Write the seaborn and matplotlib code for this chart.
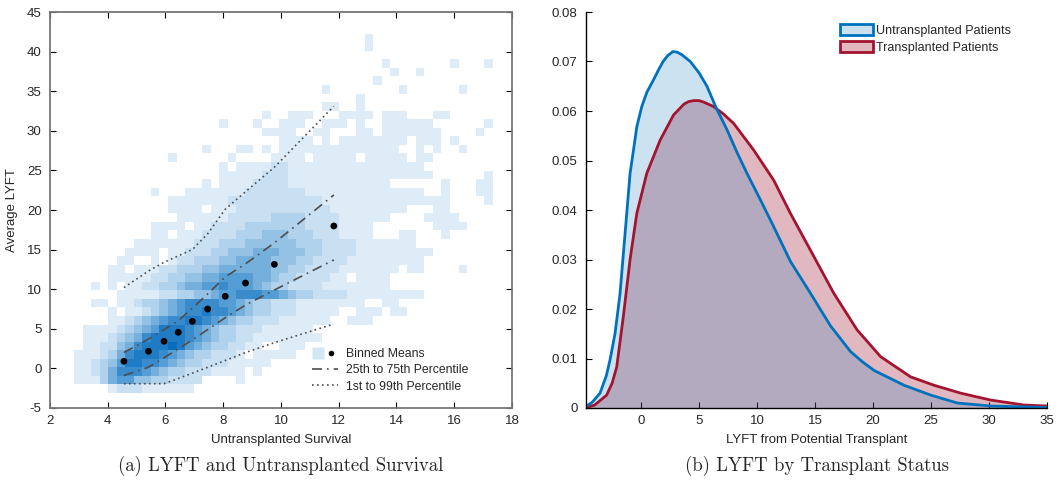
import numpy as np
import pandas as pd
import matplotlib
import matplotlib.pyplot as plt
import matplotlib.ticker as mticker
import seaborn as sns
from matplotlib.colors import LinearSegmentedColormap
from matplotlib.lines import Line2D
from matplotlib.patches import Patch
from matplotlib.legend_handler import HandlerTuple

# ==========================================
# 1. DADOS - painel (a)
# ==========================================
# Grade do histograma 2D (nível de cor 0-9, 0 = vazio).
# Primeira string = linha do topo; cada caractere = uma coluna.
GRADE = [
    "0000000000000000000000000000000000100000000000000",
    "0000000000000000000000000000000000100000000000000",
    "",
    "0000000000000000000000000000000000001000000010001",
    "00000000000000000000000000000000000001001",
    "000000000000000000000000000000000001",
    "00000000000000000000000000000100000000100000010",
    "0000000000000000000000000000000001",
    "000000000000000000000000000001100100",
    "000000000000000000000010011100011110111000110",
    "000000000000000001000100111001110100111111000000100",
    "000000000000000000000011110011000110111111100001",
    "000000000000000000000000111101011111111011101",
    "000000000000000100011010111111111111110010100100",
    "000000000001000000100001111011111011111011",
    "00000000000000000101111221111111111111111",
    "000000000000000001111122211111111111111111000000100",
    "0000000000000001011112222111111111111000000100011",
    "000000000100011111112222222111111111111110010001100",
    "000000000001111111222222222221111111111111110000100",
    "000000000001111011122222222222111111111000110",
    "000000000000111111222223333222211111100001111",
    "0000000001111011222233333332222111100000001111",
    "000000000110111222233344433322211110001100010",
    "0000000111111122233344444433322221111111",
    "000000111101122233444555444332222111111111",
    "00000110010122333445555444332222111111111",
    "000011011122333445555554433222211111110110000100",
    "0000111112233445566665543322221101111",
    "0010101122334556676665433222211111111",
    "00000111112233445667776654332222111111111",
    "0011011233456777766543322211111111001100",
    "00001011234567787765433222111110011101100",
    "00001123456778876543322211111100111",
    "01111234568887654332221111110",
    "01112345788887654332211111111",
    "011224578889865433221100111",
    "11123578887654332221011111",
    "11234688776543322211111",
    "1123577765433222111101",
    "111356644332222000010000",
    "00001222111111",
]

N_LINHAS = 42
N_COLUNAS = 50
X_INICIO, X_LARG = 2.83, 0.296
Y_INICIO, Y_ALT = -3.1, 1.08

# Cores dos níveis 1..9 (do mais claro ao mais escuro)
CORES_NIVEL = ["#deecf7", "#c9e0f2", "#b0d2ec", "#94c2e5", "#76b0dd",
               "#569dd5", "#3a8bcc", "#1f7bc4", "#0a6cbc"]

# Médias por faixa e percentis
MEDIAS_X = [4.56, 5.41, 5.95, 6.44, 6.93, 7.46, 8.07, 8.77, 9.77, 11.83]
MEDIAS_Y = [0.9, 2.16, 3.42, 4.56, 5.94, 7.5, 9.1, 10.78, 13.14, 17.98]
P25 = [-0.9, 0.15, 1.35, 2.45, 3.6, 4.9, 6.4, 8.0, 9.9, 13.7]
P75 = [2.0, 3.7, 4.9, 6.0, 7.6, 9.4, 11.55, 13.2, 15.85, 21.9]
P01 = [-1.93, -1.93, -1.93, -1.28, -0.6, 0.14, 1.0, 2.0, 3.25, 5.6]
P99 = [10.2, 12.3, 13.4, 14.2, 15.0, 17.0, 20.1, 22.3, 25.4, 33.1]

# ==========================================
# 2. DADOS - painel (b)
# ==========================================
LYFT_NAO_TX = [-4.75, -4.2, -3.54, -3.0, -2.68, -2.25, -1.82, -1.38, -0.95, -0.6,
               -0.37, 0.06, 0.5, 1.07, 1.5, 1.9, 2.3, 2.74, 3.1, 3.5,
               4.24, 5.0, 5.68, 6.5, 7.41, 8.3, 9.13, 10.3, 11.44, 12.88,
               14.6, 16.33, 18.06, 19.1, 20.08, 22.67, 24.98, 27.28, 30.2, 35.0]
DENS_NAO_TX = [0.0003, 0.0012, 0.003, 0.0065, 0.0097, 0.015, 0.023, 0.0353, 0.0474, 0.053,
               0.0568, 0.0609, 0.0638, 0.0663, 0.0683, 0.0700, 0.0712, 0.0720, 0.0719, 0.0714,
               0.0700, 0.0677, 0.0650, 0.0605, 0.0562, 0.0515, 0.0474, 0.0420, 0.0366, 0.0296,
               0.0232, 0.0166, 0.0114, 0.0093, 0.0076, 0.0046, 0.0026, 0.0010, 0.0004, 0.0001]
LYFT_TX = [-4.75, -4.0, -2.97, -2.5, -2.1, -1.53, -0.95, -0.37, 0.49, 1.64,
           2.8, 3.7, 4.1, 4.53, 5.0, 5.4, 6.25, 7.1, 7.98, 9.71,
           11.44, 12.88, 14.9, 16.61, 18.62, 20.64, 23.23, 25.25, 27.56, 30.15,
           33.03, 35.0]
DENS_TX = [0.0001, 0.0006, 0.0026, 0.005, 0.0083, 0.0185, 0.030, 0.0393, 0.0474, 0.0541,
           0.0592, 0.0614, 0.0619, 0.0621, 0.0621, 0.0618, 0.0609, 0.0594, 0.0575, 0.0521,
           0.046, 0.0393, 0.0306, 0.0232, 0.0158, 0.0104, 0.0063, 0.0046, 0.003, 0.0016,
           0.0006, 0.0004]

AZUL = "#0072BD"
VERMELHO = "#A2142F"
CINZA = "#4d4d4d"

# ==========================================
# 3. ESTILO
# ==========================================
sns.set_style("ticks", {"xtick.direction": "in", "ytick.direction": "in"})
plt.rcParams["font.family"] = ["Liberation Sans", "DejaVu Sans"]
plt.rcParams["axes.unicode_minus"] = False

W, H = 1059, 486
fig = plt.figure(figsize=(W / 100, H / 100), dpi=100)
ax1 = fig.add_axes([50 / W, 1 - 408 / H, 462 / W, 396 / H])
ax2 = fig.add_axes([586 / W, 1 - 408 / H, 461 / W, 396 / H])

# ==========================================
# 4. PAINEL (a) - histograma 2D + médias e percentis
# ==========================================
x_bordas = X_INICIO + X_LARG * np.arange(N_COLUNAS + 1)
y_bordas = Y_INICIO + Y_ALT * np.arange(N_LINHAS + 1)

registros = []
for i, linha in enumerate(GRADE):
    r = N_LINHAS - 1 - i
    for c, ch in enumerate(linha.ljust(N_COLUNAS, "0")):
        if ch != "0":
            registros.append({"x": x_bordas[c] + X_LARG / 2,
                              "y": y_bordas[r] + Y_ALT / 2,
                              "nivel": int(ch)})
df_grade = pd.DataFrame(registros)

cmap = LinearSegmentedColormap.from_list("azul_hist", CORES_NIVEL)
sns.histplot(data=df_grade, x="x", y="y", weights="nivel",
             bins=[x_bordas, y_bordas], cmap=cmap, vmin=1, vmax=9, ax=ax1)

estilo_traco = (0, (6, 3, 1, 3))
estilo_ponto = (0, (1, 2))
sns.lineplot(x=MEDIAS_X, y=P75, ax=ax1, color=CINZA, lw=1.2, linestyle=estilo_traco)
sns.lineplot(x=MEDIAS_X, y=P25, ax=ax1, color=CINZA, lw=1.2, linestyle=estilo_traco)
sns.lineplot(x=MEDIAS_X, y=P99, ax=ax1, color=CINZA, lw=1.2, linestyle=estilo_ponto)
sns.lineplot(x=MEDIAS_X, y=P01, ax=ax1, color=CINZA, lw=1.2, linestyle=estilo_ponto)
sns.scatterplot(x=MEDIAS_X, y=MEDIAS_Y, ax=ax1, color="black", s=24,
                edgecolor="none", zorder=5)

ax1.set_xlim(2, 18)
ax1.set_ylim(-5, 45)
ax1.set_xticks(range(2, 19, 2))
ax1.set_yticks(range(-5, 46, 5))
ax1.tick_params(which="both", top=True, right=True, labelsize=9.5,
                length=4, width=0.8, color="black")
ax1.tick_params(axis="x", pad=5)
ax1.tick_params(axis="y", pad=6)
for sp in ax1.spines.values():
    sp.set_color("#777777")
    sp.set_linewidth(1.3)
ax1.set_xlabel("Untransplanted Survival", fontsize=9.5, labelpad=5)
ax1.set_ylabel("Average LYFT", fontsize=9.5, labelpad=6)

handles_a = [
    (Line2D([], [], ls="none", marker="s", ms=8, mfc="#d3e6f4", mec="none"),
     Line2D([], [], ls="none", marker="o", ms=4, mfc="black", mec="none")),
    Line2D([], [], color=CINZA, lw=1.2, linestyle=estilo_traco),
    Line2D([], [], color=CINZA, lw=1.2, linestyle=estilo_ponto),
]
rotulos_a = ["Binned Means", "25th to 75th Percentile", "1st to 99th Percentile"]
ax1.legend(handles_a, rotulos_a, handler_map={tuple: HandlerTuple(ndivide=None)},
           loc="upper left", bbox_to_anchor=(312 / W, 1 - 348 / H),
           bbox_transform=fig.transFigure, frameon=False, fontsize=8.8,
           handlelength=2.1, handletextpad=0.7, labelspacing=0.35,
           borderpad=0, borderaxespad=0)

# ==========================================
# 5. PAINEL (b) - densidades por status de transplante
# ==========================================
ax2.fill_between(LYFT_TX, DENS_TX, color=VERMELHO, alpha=0.3, lw=0)
ax2.fill_between(LYFT_NAO_TX, DENS_NAO_TX, color=AZUL, alpha=0.2, lw=0)
sns.lineplot(x=LYFT_TX, y=DENS_TX, ax=ax2, color=VERMELHO, lw=2,
             solid_joinstyle="round")
sns.lineplot(x=LYFT_NAO_TX, y=DENS_NAO_TX, ax=ax2, color=AZUL, lw=2,
             solid_joinstyle="round")

ax2.set_xlim(-4.75, 35)
ax2.set_ylim(0, 0.08)
ax2.set_xticks(range(0, 36, 5))
ax2.set_yticks(np.arange(0, 0.081, 0.01))
ax2.yaxis.set_major_formatter(mticker.FormatStrFormatter("%g"))
ax2.tick_params(labelsize=9.5, length=4, width=0.8, color="black")
ax2.tick_params(axis="x", pad=5)
ax2.tick_params(axis="y", pad=6)
sns.despine(ax=ax2)
for sp in ax2.spines.values():
    sp.set_color("black")
    sp.set_linewidth(1.0)
ax2.set_xlabel("LYFT from Potential Transplant", fontsize=9.5, labelpad=5)

handles_b = [
    Patch(facecolor=(0.0, 0.447, 0.741, 0.2), edgecolor=AZUL, lw=2),
    Patch(facecolor=(0.635, 0.078, 0.184, 0.3), edgecolor=VERMELHO, lw=2),
]
ax2.legend(handles_b, ["Untransplanted Patients", "Transplanted Patients"],
           loc="upper left", bbox_to_anchor=(840 / W, 1 - 24 / H),
           bbox_transform=fig.transFigure, frameon=False, fontsize=9,
           handlelength=2.6, handleheight=0.95, handletextpad=0.3,
           labelspacing=0.33, borderpad=0, borderaxespad=0)

# ==========================================
# 6. LEGENDAS DAS FIGURAS (a) e (b)
# ==========================================
fig.text(281 / W, 1 - 466 / H, "(a) LYFT and Untransplanted Survival",
         ha="center", va="center", fontsize=13.5, family="cmr10")
fig.text(817 / W, 1 - 466 / H, "(b) LYFT by Transplant Status",
         ha="center", va="center", fontsize=13.5, family="cmr10")

plt.savefig("out.png", dpi=100)
plt.close()
